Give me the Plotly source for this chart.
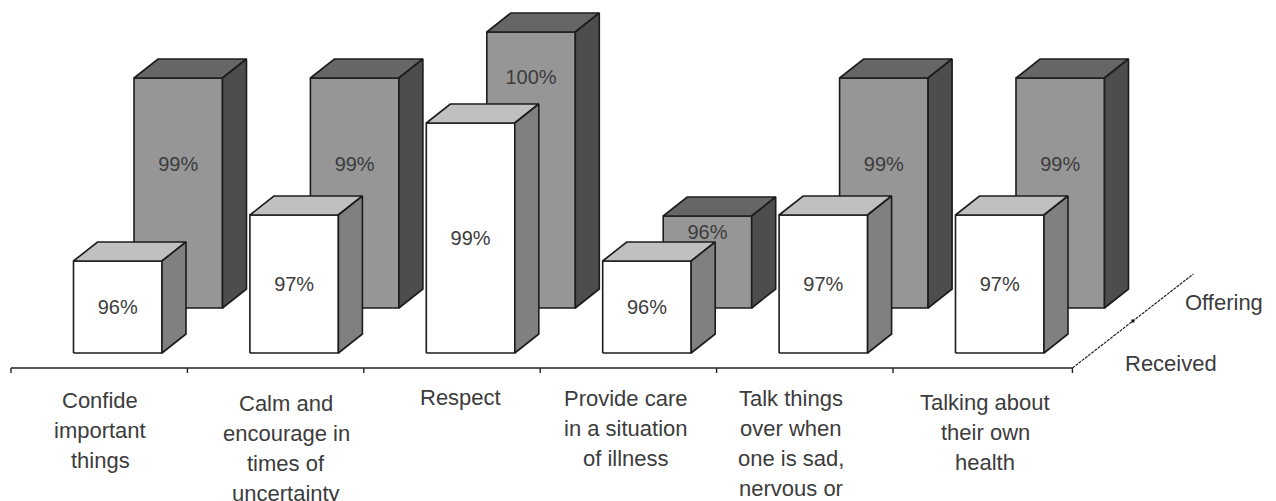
import plotly.graph_objects as go

# ---- data ----
categories = [
    ["Confide", "important", "things"],
    ["Calm and", "encourage in", "times of", "uncertainty"],
    ["Respect"],
    ["Provide care", "in a situation", "of illness"],
    ["Talk things", "over when", "one is sad,", "nervous or"],
    ["Talking about", "their own", "health"],
]
received = [96, 97, 99, 96, 97, 97]
offering = [99, 99, 100, 96, 99, 99]
series_names = ["Received", "Offering"]

# ---- layout constants (page is W x H px) ----
W, H = 1276, 501
SLOT = 176.4            # px per category
X0 = 11                 # px of first category edge
PCT = 46                # px per percentage point
BASE_PCT = 94           # value at the foot of the front row
BASE_PX = 353
XR = [-X0 / SLOT, (W - X0) / SLOT]
YR = [BASE_PCT - (H - BASE_PX) / PCT, BASE_PCT + BASE_PX / PCT]

BAR_W = 88.5 / SLOT
DX, DY = 24 / SLOT, 19 / PCT            # bar depth
ROW_DX, ROW_DY = 60.5 / SLOT, 45 / PCT  # shift of the back row
CENTER = 106.75 / SLOT                  # bar centre inside a slot
AXIS_Y = BASE_PCT - 15 / PCT
AXIS_EXTRA = 3 / SLOT                   # axis runs slightly past the last slot
OFFER_LABEL_DROP = {100: 47 / PCT, 99: 88 / PCT, 96: 18 / PCT}
LABEL_NUDGE = 1.5 / PCT

TEXT = "#3c3c3c"
EDGE = "#1c1c1c"
FONT = "Liberation Sans"
STYLE = {
    "Received": dict(front="#ffffff", top="#c0c0c0", side="#808080"),
    "Offering": dict(front="#969696", top="#666666", side="#4d4d4d"),
}

fig = go.Figure()


def poly(xs, ys, color):
    fig.add_trace(go.Scatter(
        x=xs + xs[:1], y=ys + ys[:1], mode="lines", fill="toself",
        fillcolor=color, line=dict(color=EDGE, width=1.6),
        showlegend=False, hoverinfo="skip"))


def bar(i, value, name):
    back = name == "Offering"
    cx = i + CENTER + (ROW_DX if back else 0)
    base = BASE_PCT + (ROW_DY if back else 0)
    top = value + (ROW_DY if back else 0)
    l, r = cx - BAR_W / 2, cx + BAR_W / 2
    s = STYLE[name]
    poly([l, r, r, l], [base, base, top, top], s["front"])
    poly([l, r, r + DX, l + DX], [top, top, top + DY, top + DY], s["top"])
    poly([r, r + DX, r + DX, r], [base, base + DY, top + DY, top], s["side"])
    label_y = top - OFFER_LABEL_DROP[value] if back else (base + top) / 2 - LABEL_NUDGE
    fig.add_trace(go.Scatter(
        x=[cx], y=[label_y], mode="text", text=[f"{value}%"],
        textposition="middle center",
        textfont=dict(family=FONT, size=20, color=TEXT),
        showlegend=False, hoverinfo="skip"))


for i, v in enumerate(offering):
    bar(i, v, "Offering")
for i, v in enumerate(received):
    bar(i, v, "Received")

# category axis line and ticks
n = len(categories)
axis_end = n + AXIS_EXTRA
fig.add_trace(go.Scatter(
    x=[0, axis_end], y=[AXIS_Y, AXIS_Y], mode="lines",
    line=dict(color="#222222", width=1.4), showlegend=False, hoverinfo="skip"))
for t in list(range(n)) + [axis_end]:
    fig.add_trace(go.Scatter(
        x=[t, t], y=[AXIS_Y, AXIS_Y - 5 / PCT], mode="lines",
        line=dict(color="#222222", width=1.4), showlegend=False, hoverinfo="skip"))

# series (depth) axis
DEPTH_X, DEPTH_Y = 121 / SLOT, 94 / PCT
fig.add_trace(go.Scatter(
    x=[axis_end, axis_end + DEPTH_X], y=[AXIS_Y, AXIS_Y + DEPTH_Y], mode="lines",
    line=dict(color="#222222", width=1.2, dash="3px,1px"),
    showlegend=False, hoverinfo="skip"))
fig.add_trace(go.Scatter(
    x=[axis_end + DEPTH_X / 2], y=[AXIS_Y + DEPTH_Y / 2], mode="markers",
    marker=dict(color="#111111", size=3, symbol="square"),
    showlegend=False, hoverinfo="skip"))

annotations = []


def label(x_px, y_px, text):
    annotations.append(dict(
        x=(x_px - X0) / SLOT, xref="x", y=1 - y_px / H, yref="paper",
        text=text, showarrow=False, xanchor="center", yanchor="middle",
        font=dict(family=FONT, size=22, color=TEXT)))


LABEL_X = [100, 286, 460, 626, 791, 985]
LABEL_Y = [400, 403, 397, 398, 398, 402]
LINE_H = 30.3
for lines, lx, ly in zip(categories, LABEL_X, LABEL_Y):
    for k, line in enumerate(lines):
        label(lx, ly + k * LINE_H, line)

label(1171, 363, series_names[0])
label(1224, 302, series_names[1])

fig.update_layout(
    width=W, height=H, margin=dict(l=0, r=0, t=0, b=0),
    paper_bgcolor="white", plot_bgcolor="white", showlegend=False,
    xaxis=dict(range=XR, visible=False, fixedrange=True),
    yaxis=dict(range=YR, visible=False, fixedrange=True),
    annotations=annotations,
)
fig.write_html(
    "out.html", config=dict(displayModeBar=False),
    post_script="document.body.style.margin='0';document.body.style.overflow='hidden';",
)
